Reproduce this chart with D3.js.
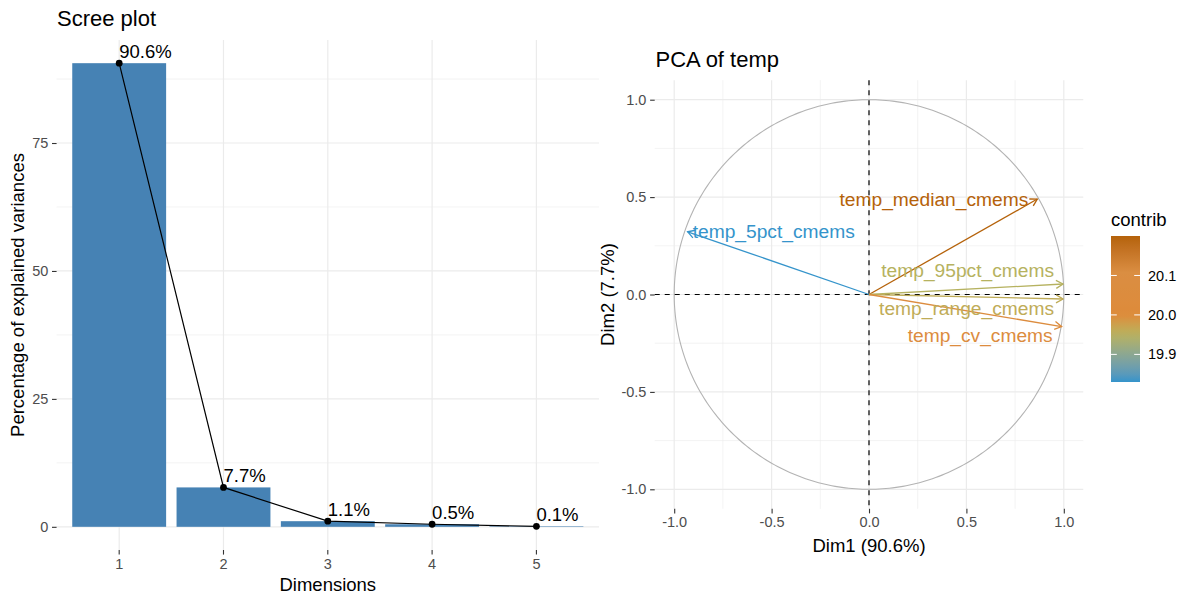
<!DOCTYPE html>
<html>
<head>
<meta charset="utf-8">
<script src="https://cdn.jsdelivr.net/npm/d3@7"></script>
<style>
  html, body { margin: 0; padding: 0; background: #ffffff; }
  svg { display: block; font-family: "Liberation Sans", Arial, sans-serif; }
</style>
</head>
<body>
<svg id="chart" width="1182" height="597"></svg>
<script>
// ---- Scree plot data ----
const dims = ["1", "2", "3", "4", "5"];
const explained = [90.6, 7.7, 1.1, 0.5, 0.1];
const screeYTicks = [0, 25, 50, 75];
const screeYMinor = [12.5, 37.5, 62.5, 87.5];

// ---- Variable correlation circle data ----
const varNames = ["temp_median_cmems", "temp_5pct_cmems", "temp_95pct_cmems", "temp_range_cmems", "temp_cv_cmems"];
const dim1Coord = [0.864, -0.931, 0.996, 0.996, 0.989];
const dim2Coord = [0.490, 0.322, 0.054, -0.023, -0.165];
const contrib = [20.20, 19.83, 19.95, 19.96, 20.05];
// label displacement along Dim2 (repelled labels)
const labelNudgeY = [0, 0, 0.072, -0.048, -0.043];
const pcaTicks = [-1.0, -0.5, 0.0, 0.5, 1.0];
const pcaMinor = [-0.75, -0.25, 0.25, 0.75];
const legendTicks = [19.9, 20.0, 20.1];
const contribPalette = ["#3594CB", "#88A695", "#B8B25E", "#DE8B3A", "#DA8E42", "#B5620A"];
const paletteStops = [0, 0.18, 0.33, 0.46, 0.75, 1];

const svg = d3.select("#chart");
const FONT_TICK = 14.5, FONT_AXIS = 18.5, FONT_TITLE = 22, FONT_LABEL = 18.5, FONT_VAR = 19.2;
const GRID = "#EBEBEB", TICK_TXT = "#4D4D4D", TICK_LINE = "#333333";

// ================= Scree plot =================
{
  const x = d3.scaleBand().domain(dims).range([56.6, 599]).paddingInner(0.1).paddingOuter(0.15);
  const y = d3.scaleLinear().domain([-4.53, 95.13]).range([550, 40]);
  const [x0, x1] = x.range(), [yb, yt] = y.range();
  const cx = d => x(d) + x.bandwidth() / 2;
  const g = svg.append("g");

  // grid
  g.selectAll(".minor").data(screeYMinor).join("line")
    .attr("x1", x0).attr("x2", x1).attr("y1", d => y(d)).attr("y2", d => y(d))
    .attr("stroke", GRID).attr("stroke-width", 0.6);
  g.selectAll(".major").data(screeYTicks).join("line")
    .attr("x1", x0).attr("x2", x1).attr("y1", d => y(d)).attr("y2", d => y(d))
    .attr("stroke", GRID).attr("stroke-width", 1.2);
  g.selectAll(".vgrid").data(dims).join("line")
    .attr("x1", cx).attr("x2", cx).attr("y1", yt).attr("y2", yb)
    .attr("stroke", GRID).attr("stroke-width", 1.2);

  // bars
  g.selectAll(".bar").data(dims).join("rect")
    .attr("x", d => x(d)).attr("width", x.bandwidth())
    .attr("y", (d, i) => y(explained[i])).attr("height", (d, i) => y(0) - y(explained[i]))
    .attr("fill", "#4682B4");

  // line + points
  const line = d3.line().x((d, i) => cx(dims[i])).y(d => y(d));
  g.append("path").attr("d", line(explained)).attr("fill", "none").attr("stroke", "#000").attr("stroke-width", 1.2);
  g.selectAll(".pt").data(explained).join("circle")
    .attr("cx", (d, i) => cx(dims[i])).attr("cy", d => y(d)).attr("r", 3.4).attr("fill", "#000");

  // value labels
  g.selectAll(".lab").data(explained).join("text")
    .attr("x", (d, i) => cx(dims[i])).attr("y", d => y(d) - 5.5)
    .attr("font-size", FONT_LABEL).attr("fill", "#000")
    .text(d => d.toFixed(1) + "%");

  // axes
  const ax = g.append("g").attr("transform", `translate(0,${yb})`)
    .call(d3.axisBottom(x).tickSize(4.6).tickPadding(3.7));
  const ay = g.append("g").attr("transform", `translate(${x0},0)`)
    .call(d3.axisLeft(y).tickValues(screeYTicks).tickSize(4.6).tickPadding(3.7));
  [ax, ay].forEach(a => {
    a.select(".domain").remove();
    a.selectAll(".tick line").attr("stroke", TICK_LINE).attr("stroke-width", 1.1);
    a.selectAll(".tick text").attr("fill", TICK_TXT).attr("font-size", FONT_TICK).attr("font-family", null);
  });

  g.append("text").attr("x", (x0 + x1) / 2).attr("y", 591).attr("text-anchor", "middle")
    .attr("font-size", FONT_AXIS).text("Dimensions");
  g.append("text").attr("transform", `translate(24,${(yt + yb) / 2}) rotate(-90)`).attr("text-anchor", "middle")
    .attr("font-size", FONT_AXIS).text("Percentage of explained variances");
  g.append("text").attr("x", 57).attr("y", 26).attr("font-size", FONT_TITLE).text("Scree plot");
}

// ================= Correlation circle =================
{
  const unit = 194.8, ox = 869, oy = 294.5;
  const x = d3.scaleLinear().domain([-1.1, 1.1]).range([ox - 1.1 * unit, ox + 1.1 * unit]);
  const y = d3.scaleLinear().domain([-1.1, 1.1]).range([oy + 1.1 * unit, oy - 1.1 * unit]);
  const [x0, x1] = x.range(), [yb, yt] = y.range();
  const cmin = d3.min(contrib), cmax = d3.max(contrib);
  const color = d3.scaleLinear()
    .domain(paletteStops.map(p => cmin + p * (cmax - cmin)))
    .range(contribPalette).interpolate(d3.interpolateLab);
  const g = svg.append("g");

  g.selectAll(".vminor").data(pcaMinor).join("line")
    .attr("x1", d => x(d)).attr("x2", d => x(d)).attr("y1", yt).attr("y2", yb)
    .attr("stroke", GRID).attr("stroke-width", 0.6);
  g.selectAll(".hminor").data(pcaMinor).join("line")
    .attr("y1", d => y(d)).attr("y2", d => y(d)).attr("x1", x0).attr("x2", x1)
    .attr("stroke", GRID).attr("stroke-width", 0.6);
  g.selectAll(".vmajor").data(pcaTicks).join("line")
    .attr("x1", d => x(d)).attr("x2", d => x(d)).attr("y1", yt).attr("y2", yb)
    .attr("stroke", GRID).attr("stroke-width", 1.2);
  g.selectAll(".hmajor").data(pcaTicks).join("line")
    .attr("y1", d => y(d)).attr("y2", d => y(d)).attr("x1", x0).attr("x2", x1)
    .attr("stroke", GRID).attr("stroke-width", 1.2);

  // unit circle
  const circ = d3.range(0, 361).map(a => [Math.cos(a * Math.PI / 180), Math.sin(a * Math.PI / 180)]);
  g.append("path").attr("d", d3.line().x(d => x(d[0])).y(d => y(d[1]))(circ))
    .attr("fill", "none").attr("stroke", "#B3B3B3").attr("stroke-width", 1.1);

  // reference lines
  g.append("line").attr("x1", x0).attr("x2", x1).attr("y1", y(0)).attr("y2", y(0))
    .attr("stroke", "#000").attr("stroke-width", 1.2).attr("stroke-dasharray", "5,5");
  g.append("line").attr("x1", x(0)).attr("x2", x(0)).attr("y1", yt).attr("y2", yb)
    .attr("stroke", "#000").attr("stroke-width", 1.2).attr("stroke-dasharray", "5,5");

  // arrows
  varNames.forEach((name, i) => {
    const tx = x(dim1Coord[i]), ty = y(dim2Coord[i]);
    const bx = x(0), by = y(0);
    const ang = Math.atan2(ty - by, tx - bx);
    const L = 8, spread = Math.PI / 6;
    const c = color(contrib[i]);
    g.append("line").attr("x1", bx).attr("y1", by).attr("x2", tx).attr("y2", ty)
      .attr("stroke", c).attr("stroke-width", 1.3);
    const p1 = [tx - L * Math.cos(ang - spread), ty - L * Math.sin(ang - spread)];
    const p2 = [tx - L * Math.cos(ang + spread), ty - L * Math.sin(ang + spread)];
    g.append("path").attr("d", `M${p1[0]},${p1[1]}L${tx},${ty}L${p2[0]},${p2[1]}`)
      .attr("fill", "none").attr("stroke", c).attr("stroke-width", 1.3);
  });

  // labels
  varNames.forEach((name, i) => {
    const pos = dim1Coord[i] >= 0;
    const tx = x(dim1Coord[i]);
    g.append("text")
      .attr("x", pos ? tx - 9 : tx + 5)
      .attr("y", y(dim2Coord[i] + labelNudgeY[i]))
      .attr("dy", "0.35em")
      .attr("text-anchor", pos ? "end" : "start")
      .attr("font-size", FONT_VAR).attr("fill", color(contrib[i]))
      .text(name);
  });

  // axes
  const fmt = d3.format(".1f");
  const ax = g.append("g").attr("transform", `translate(0,${yb})`)
    .call(d3.axisBottom(x).tickValues(pcaTicks).tickFormat(fmt).tickSize(4.6).tickPadding(3.7));
  const ay = g.append("g").attr("transform", `translate(${x0},0)`)
    .call(d3.axisLeft(y).tickValues(pcaTicks).tickFormat(fmt).tickSize(4.6).tickPadding(3.7));
  [ax, ay].forEach(a => {
    a.select(".domain").remove();
    a.selectAll(".tick line").attr("stroke", TICK_LINE).attr("stroke-width", 1.1);
    a.selectAll(".tick text").attr("fill", TICK_TXT).attr("font-size", FONT_TICK).attr("font-family", null)
      .text(function () { return this.textContent.replace("\u2212", "-"); });
  });

  g.append("text").attr("x", ox).attr("y", 552).attr("text-anchor", "middle")
    .attr("font-size", FONT_AXIS).text("Dim1 (90.6%)");
  g.append("text").attr("transform", `translate(614,${oy}) rotate(-90)`).attr("text-anchor", "middle")
    .attr("font-size", FONT_AXIS).text("Dim2 (7.7%)");
  g.append("text").attr("x", 655.5).attr("y", 66.5).attr("font-size", FONT_TITLE).text("PCA of temp");

  // colour bar legend
  const lx = 1111, lw = 29, ly0 = 236, ly1 = 382;
  const ly = d3.scaleLinear().domain([cmin, cmax]).range([ly1, ly0]);
  const defs = svg.append("defs");
  const grad = defs.append("linearGradient").attr("id", "contribGrad")
    .attr("x1", 0).attr("y1", 1).attr("x2", 0).attr("y2", 0);
  d3.range(0, 1.0001, 0.05).forEach(p => {
    grad.append("stop").attr("offset", p).attr("stop-color", color(cmin + p * (cmax - cmin)));
  });
  const lg = svg.append("g");
  lg.append("text").attr("x", lx).attr("y", 226).attr("font-size", FONT_AXIS).text("contrib");
  lg.append("rect").attr("x", lx).attr("y", ly0).attr("width", lw).attr("height", ly1 - ly0)
    .attr("fill", "url(#contribGrad)");
  legendTicks.forEach(t => {
    const yy = ly(t);
    lg.append("line").attr("x1", lx).attr("x2", lx + lw / 5).attr("y1", yy).attr("y2", yy)
      .attr("stroke", "#fff").attr("stroke-width", 1);
    lg.append("line").attr("x1", lx + lw - lw / 5).attr("x2", lx + lw).attr("y1", yy).attr("y2", yy)
      .attr("stroke", "#fff").attr("stroke-width", 1);
    lg.append("text").attr("x", lx + lw + 8).attr("y", yy).attr("dy", "0.35em")
      .attr("font-size", FONT_TICK).attr("fill", "#000").text(t.toFixed(1));
  });
}
</script>
</body>
</html>
